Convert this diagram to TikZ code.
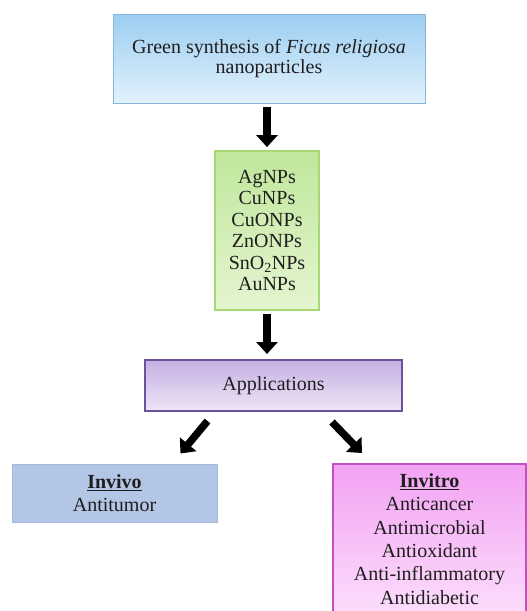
\documentclass[tikz,border=0pt]{standalone}
\usepackage{fontspec}
\setmainfont{Liberation Serif}
\usetikzlibrary{arrows.meta}
\definecolor{txt}{HTML}{1E1E1E}
\definecolor{bluetop}{HTML}{9CCDF1}
\definecolor{bluebot}{HTML}{E2F2FC}
\definecolor{blueline}{HTML}{86B6DC}
\definecolor{greentop}{HTML}{C0E79C}
\definecolor{greenbot}{HTML}{E4F5D0}
\definecolor{greenline}{HTML}{A8D874}
\definecolor{purptop}{HTML}{C5AFE2}
\definecolor{purpbot}{HTML}{EEE5F6}
\definecolor{purpline}{HTML}{6E519B}
\definecolor{vivofill}{HTML}{B4C6E5}
\definecolor{vivoline}{HTML}{A3B8DC}
\definecolor{pinktop}{HTML}{F3A2F3}
\definecolor{pinkbot}{HTML}{FCDDFC}
\definecolor{pinkline}{HTML}{C24FC3}
\tikzset{
  boxbase/.style={rectangle, align=center, text=txt, inner sep=0pt,
    font=\fontsize{20}{21.5}\selectfont},
  bigarrow/.style={line width=7.5pt, draw=black,
    -{Triangle[width=21pt,length=12pt]}}
}
\begin{document}
\begin{tikzpicture}[x=1pt,y=-1pt]
\useasboundingbox (0,0) rectangle (527,611);
\clip (0,0) rectangle (527,611);
\fill[white] (0,0) rectangle (527,611);

\node[boxbase, minimum width=312pt, minimum height=89pt,
  top color=bluetop, bottom color=bluebot, draw=blueline, line width=1pt,
  font=\fontsize{20}{20.5}\selectfont]
  (top) at (269,58.5) {Green synthesis of \textit{Ficus religiosa}\\nanoparticles};

\node[boxbase, minimum width=104pt, minimum height=159pt,
  top color=greentop, bottom color=greenbot, draw=greenline, line width=1.8pt,
  font=\fontsize{20}{21.4}\selectfont]
  (nps) at (267,230.5) {AgNPs\\CuNPs\\CuONPs\\ZnONPs\\SnO\textsubscript{2}NPs\\AuNPs};

\node[boxbase, minimum width=257pt, minimum height=51pt,
  top color=purptop, bottom color=purpbot, draw=purpline, line width=2pt]
  (app) at (273.5,385.5) {Applications};

\node[boxbase, minimum width=205pt, minimum height=58pt,
  fill=vivofill, draw=vivoline, line width=1pt,
  font=\fontsize{20}{23}\selectfont]
  (vivo) at (114.5,493) {\underline{\textbf{Invivo}}\\Antitumor};

\node[boxbase, minimum width=193pt, minimum height=150pt,
  top color=pinktop, bottom color=pinkbot, draw=pinkline, line width=2pt,
  font=\fontsize{20}{23.3}\selectfont]
  (vitro) at (429.5,539) {\underline{\textbf{Invitro}}\\Anticancer\\Antimicrobial\\Antioxidant\\Anti-inflammatory\\Antidiabetic};

\draw[bigarrow, shorten <=3pt, shorten >=3pt] (top.south -| nps.north) -- (nps.north);
\draw[bigarrow, shorten <=3pt, shorten >=5pt] (nps.south) -- (nps.south |- app.north);
\draw[bigarrow] ([xshift=-66pt,yshift=-9pt]app.south) -- ([xshift=66pt,yshift=10pt]vivo.north);
\draw[bigarrow] ([xshift=58.5pt,yshift=-10pt]app.south) -- ([xshift=-67.5pt,yshift=10pt]vitro.north);
\end{tikzpicture}
\end{document}
